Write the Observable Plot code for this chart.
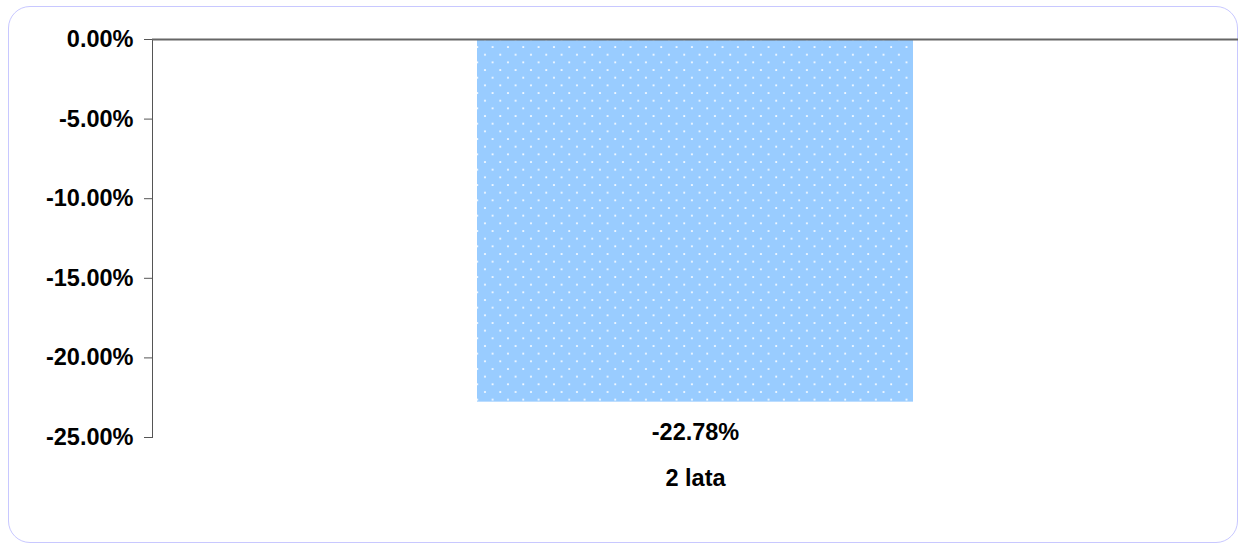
<!DOCTYPE html>
<html>
<head>
<meta charset="utf-8">
<script src="https://cdn.jsdelivr.net/npm/d3@7"></script>
<script src="https://cdn.jsdelivr.net/npm/@observablehq/plot@0.6"></script>
<style>
  html, body { margin: 0; padding: 0; background: #fff; }
  #wrap { position: relative; width: 1239px; height: 544px; }
  #border { position: absolute; left: 8px; top: 6px; width: 1228px; height: 535px;
            border: 1.7px solid #c8c8ff; border-radius: 22px; pointer-events: none; }
</style>
</head>
<body>
<div id="wrap"><div id="border"></div></div>
<script>
const categories = ["2 lata"];
const values = [-22.78];
const valueLabels = ["-22.78%"];
const yTicks = [0, -5, -10, -15, -20, -25];

const data = categories.map((c, i) => ({category: c, value: values[i], label: valueLabels[i]}));

const chart = Plot.plot({
  width: 1239,
  height: 544,
  marginLeft: 152,
  marginRight: 1,
  marginTop: 39,
  marginBottom: 107,
  style: {fontFamily: "'Liberation Sans', Arial, sans-serif", fontSize: "23.5px", fontWeight: "bold", color: "#000", background: "transparent"},
  x: {domain: categories, padding: 0.427, label: null},
  y: {domain: [-25, 0], label: null},
  marks: [
    Plot.barY(data, {x: "category", y: "value", fill: "url(#dots)"}),
    Plot.text(data, {x: "category", y: "value", text: "label", dy: 30, fontSize: 23.5, fontWeight: "bold", fill: "#000"}),
    Plot.axisY({ticks: yTicks, tickFormat: d => d.toFixed(2) + "%", tickSize: 8, tickPadding: 11, stroke: "#555", fill: "#000", label: null}),
    Plot.axisX({tickSize: 0, tickPadding: 32, fill: "#000", label: null}),
    Plot.frame({anchor: "left", stroke: "#555"}),
    Plot.ruleY([0], {stroke: "#666", strokeWidth: 2})
  ]
});

const ns = "http://www.w3.org/2000/svg";
const defs = document.createElementNS(ns, "defs");
defs.innerHTML = `
  <pattern id="dots" patternUnits="userSpaceOnUse" x="13.5" y="12.5" width="15.33" height="15.33">
    <rect width="15.33" height="15.33" fill="#99ccff"></rect>
    <rect x="3" y="3" width="1.8" height="1.8" fill="#ffffff" opacity="0.9"></rect>
    <rect x="10.67" y="10.67" width="1.8" height="1.8" fill="#ffffff" opacity="0.9"></rect>
  </pattern>`;
chart.insertBefore(defs, chart.firstChild);
chart.style.position = "absolute";
chart.style.left = "0";
chart.style.top = "0";
document.getElementById("wrap").appendChild(chart);
</script>
</body>
</html>
